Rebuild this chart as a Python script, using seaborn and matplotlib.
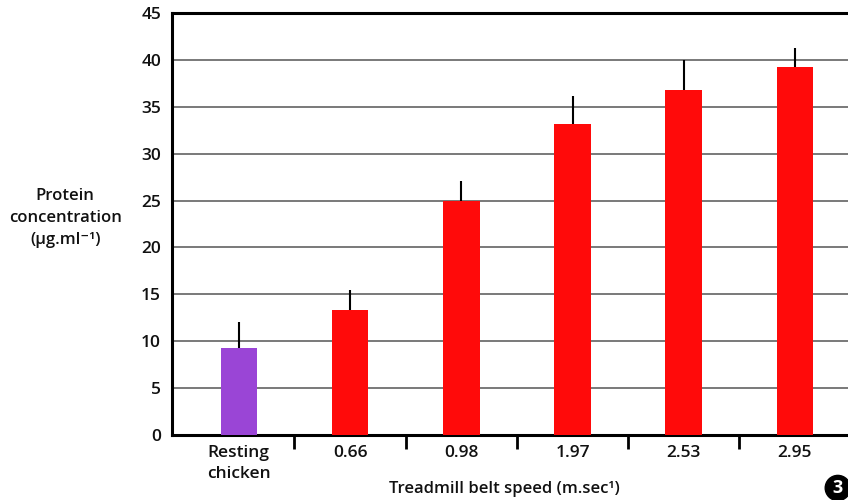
import matplotlib
matplotlib.use("Agg")
import matplotlib.pyplot as plt
import seaborn as sns
import pandas as pd
import numpy as np

categories = ["Resting\nchicken", "0.66", "0.98", "1.97", "2.53", "2.95"]
protein = [9.3, 13.3, 25.0, 33.2, 36.8, 39.2]
sem_upper = [2.8, 2.2, 2.1, 3.0, 3.2, 2.1]
bar_colors = ["#9a45d6", "#ff0a0a", "#ff0a0a", "#ff0a0a", "#ff0a0a", "#ff0a0a"]
y_ticks = [0, 5, 10, 15, 20, 25, 30, 35, 40, 45]

sns.set_theme(style="white")
plt.rcParams["font.family"] = ["Open Sans", "DejaVu Sans"]

df = pd.DataFrame({"speed": categories, "protein": protein})

fig = plt.figure(figsize=(8.48, 5.0), dpi=100)
ax = fig.add_axes([0.203, 0.13, 0.80, 0.844])

sns.barplot(data=df, x="speed", y="protein", hue="speed", palette=bar_colors,
            width=0.33, legend=False, ax=ax, saturation=1, zorder=3,
            edgecolor="none", linewidth=0)

x = np.arange(len(categories))
ax.errorbar(x, protein, yerr=[np.zeros(len(protein)), sem_upper], fmt="none",
            ecolor="black", elinewidth=1.5, capsize=0, zorder=2)

ax.set_ylim(0, 45)
ax.set_xlim(-0.6, 5.5)
ax.set_yticks(y_ticks)
ax.set_yticklabels([str(t) for t in y_ticks], fontsize=12.5, fontweight="semibold", color="#111111")
ax.yaxis.grid(True, color="#6e6e6e", linewidth=1.3, zorder=0)
ax.set_axisbelow(True)

ax.set_xticks(x)
ax.set_xticklabels(categories, fontsize=12.5, fontweight="semibold", color="#111111",
                   linespacing=1.45)
ax.tick_params(axis="x", which="major", length=0, pad=7)
ax.tick_params(axis="y", which="major", length=0, pad=8)
ax.set_xticks(np.arange(0.5, len(categories) - 1, 1.0), minor=True)
ax.tick_params(axis="x", which="minor", length=10, width=2, color="black", direction="out", bottom=True)

for side in ["left", "bottom", "top"]:
    ax.spines[side].set_color("black")
    ax.spines[side].set_linewidth(2.2)
ax.spines["right"].set_visible(False)

ax.set_xlabel("Treadmill belt speed (m.sec¹)", fontsize=12, fontweight="semibold",
              color="#111111")
ax.xaxis.set_label_coords(0.49, -0.108)
ax.set_ylabel("")

fig.text(0.077, 0.565, "Protein\nconcentration\n(µg.ml⁻¹)", ha="center", va="center",
         fontsize=12, fontweight="semibold", color="#111111", linespacing=1.5,
         family=["Open Sans", "DejaVu Sans"])

fig.text(0.988, 0.024, "3", ha="center", va="center", fontsize=13, fontweight="bold",
         color="white", bbox=dict(boxstyle="circle,pad=0.2", fc="black", ec="black"))

fig.savefig("out.png", dpi=100)
